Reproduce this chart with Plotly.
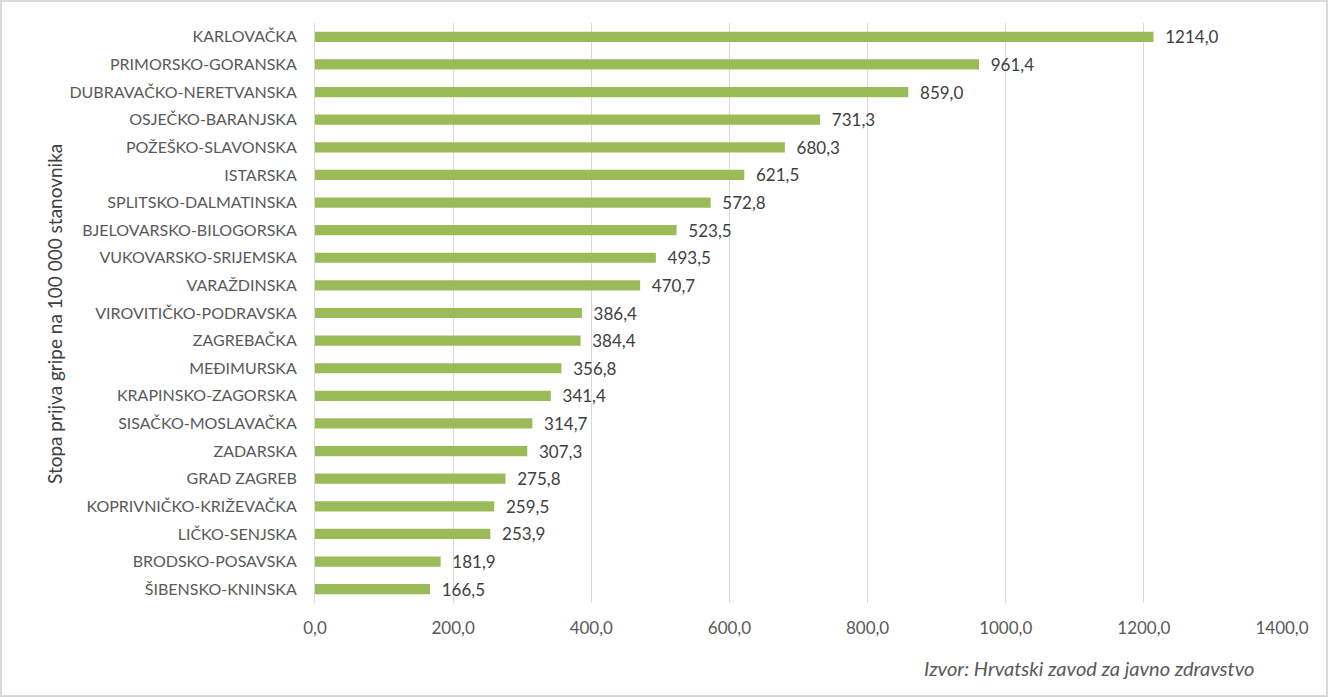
import plotly.graph_objects as go

regions = ["KARLOVAČKA", "PRIMORSKO-GORANSKA", "DUBRAVAČKO-NERETVANSKA", "OSJEČKO-BARANJSKA",
           "POŽEŠKO-SLAVONSKA", "ISTARSKA", "SPLITSKO-DALMATINSKA", "BJELOVARSKO-BILOGORSKA",
           "VUKOVARSKO-SRIJEMSKA", "VARAŽDINSKA", "VIROVITIČKO-PODRAVSKA", "ZAGREBAČKA",
           "MEĐIMURSKA", "KRAPINSKO-ZAGORSKA", "SISAČKO-MOSLAVAČKA", "ZADARSKA", "GRAD ZAGREB",
           "KOPRIVNIČKO-KRIŽEVAČKA", "LIČKO-SENJSKA", "BRODSKO-POSAVSKA", "ŠIBENSKO-KNINSKA"]
rates = [1214.0, 961.4, 859.0, 731.3, 680.3, 621.5, 572.8, 523.5, 493.5, 470.7, 386.4, 384.4,
         356.8, 341.4, 314.7, 307.3, 275.8, 259.5, 253.9, 181.9, 166.5]
x_ticks = [0, 200, 400, 600, 800, 1000, 1200, 1400]
x_tick_labels = ["0,0", "200,0", "400,0", "600,0", "800,0", "1000,0", "1200,0", "1400,0"]

labels = ["  " + f"{v:.1f}".replace(".", ",") for v in rates]

FONT = "Lato"
GREY = "#595959"

fig = go.Figure(go.Bar(
    y=regions, x=rates, orientation="h",
    marker=dict(color="#9BBB59", line=dict(width=0)),
    width=0.37,
    text=labels, textposition="outside", cliponaxis=False, constraintext="none",
    textfont=dict(family=FONT, size=17, color="#404040"),
    hoverinfo="skip",
))

L, R, T, B = 315, 47, 23, 95
W, H = 1329, 698
pw, ph = W - L - R, H - T - B

fig.update_layout(
    width=W, height=H,
    margin=dict(l=L, r=R, t=T, b=B),
    paper_bgcolor="white", plot_bgcolor="white",
    showlegend=False,
    font=dict(family=FONT, size=16, color=GREY),
    xaxis=dict(range=[0, 1400], tickvals=x_ticks, ticktext=x_tick_labels,
               showgrid=True, gridcolor="#D9D9D9", gridwidth=1, zeroline=False,
               showline=False, ticks="outside", ticklen=10, tickcolor="rgba(0,0,0,0)",
               tickfont=dict(family=FONT, size=17, color=GREY), fixedrange=True),
    yaxis=dict(autorange="reversed", showgrid=False, zeroline=False,
               showline=True, linecolor="#D9D9D9", linewidth=1,
               ticks="outside", ticklen=14, tickcolor="rgba(0,0,0,0)",
               tickfont=dict(family=FONT, size=16, color=GREY), fixedrange=True),
    bargap=0.63,
    shapes=[dict(type="rect", xref="paper", yref="paper",
                 x0=(1 - L) / pw, x1=(W - 2 - L) / pw,
                 y0=-(H - 2 - (T + ph)) / ph, y1=(T + ph - 1) / ph,
                 line=dict(color="#D9D9D9", width=2), fillcolor="rgba(0,0,0,0)", layer="below")],
    annotations=[
        dict(text="Stopa prijva gripe na 100 000 stanovnika", textangle=-90,
             xref="paper", yref="paper", x=(55 - L) / pw, xanchor="center",
             y=(T + ph - 314) / ph, yanchor="middle", showarrow=False,
             font=dict(family=FONT, size=19, color="#404040")),
        dict(text="<i>Izvor: Hrvatski zavod za javno zdravstvo</i>",
             xref="paper", yref="paper", x=(1256 - L) / pw, xanchor="right",
             y=-(668 - (T + ph)) / ph, yanchor="middle", showarrow=False,
             font=dict(family=FONT, size=20, color=GREY)),
    ],
)

fig.write_html("out.html", config={"displayModeBar": False},
               post_script="document.body.style.margin='0';document.body.style.overflow='hidden';")
